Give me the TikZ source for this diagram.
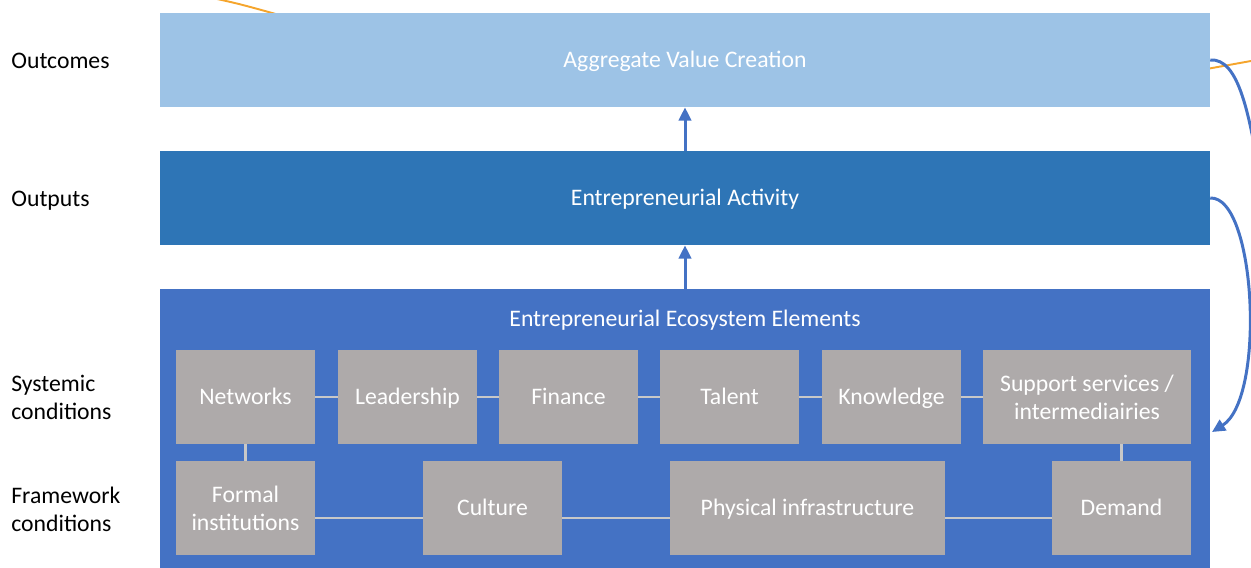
\documentclass[tikz,border=0pt]{standalone}
\usepackage{fontspec}
\setmainfont{Carlito}
\usetikzlibrary{arrows.meta,positioning}
\definecolor{outcomeFill}{HTML}{9DC3E6}
\definecolor{outputFill}{HTML}{2E75B6}
\definecolor{ecoFill}{HTML}{4472C4}
\definecolor{elemFill}{HTML}{AEAAAA}
\definecolor{linkGrey}{HTML}{C8C8C8}
\definecolor{orangeLine}{HTML}{F5A52C}
\tikzset{
  oneline/.style={text height=2.1ex, text depth=.4ex},
  twoline/.style={text height={}, text depth={}},
  band/.style={
    rectangle, minimum width=21cm, minimum height=1.88cm,
    text=white, inner sep=0pt, oneline
  },
  elem/.style={
    rectangle, fill=elemFill, text=white, align=center,
    minimum width=2.78cm, minimum height=1.88cm, inner sep=2pt, oneline
  },
  link/.style={draw=linkGrey, line width=1.5pt},
  flow/.style={-{Triangle[length=7.5pt,width=7pt]}, draw=ecoFill, line width=1.7pt},
  rowlabel/.style={anchor=west, align=left, inner sep=0pt}
}

\begin{document}
\begin{tikzpicture}[x=0.02cm,y=-0.02cm,font=\fontsize{13.5}{16}\selectfont]
  \useasboundingbox (0,0) rectangle (1251,568);
  \clip (0,0) rectangle (1251,568);

  % stray orange lines, running behind the top band
  \draw[orangeLine, line width=1.1pt] (208,-3) .. controls (240,4) .. (290,18);
  \draw[orangeLine, line width=1.1pt] (1190,72) -- (1262,59);

  % three levels
  \node[band, fill=outcomeFill] (value) at (685,60) {Aggregate Value Creation};
  \node[band, fill=outputFill] (activity) at (685,198) {Entrepreneurial Activity};
  \node[band, fill=ecoFill, minimum height=5.8cm, anchor=north] (eco) at (685,289) {};
  \node[text=white, oneline] (ecotitle) at (685,319) {Entrepreneurial Ecosystem Elements};

  % systemic conditions
  \node[elem] (net)  at (245.5,397) {Networks};
  \node[elem] (lead) at (407.5,397) {Leadership};
  \node[elem] (fin)  at (568.5,397) {Finance};
  \node[elem] (tal)  at (729.5,397) {Talent};
  \node[elem] (know) at (891.5,397) {Knowledge};
  \node[elem, twoline, minimum width=4.16cm] (supp) at (1087,397) {Support services /\\intermediairies};

  % framework conditions
  \node[elem, twoline] (formal) at (245.5,508) {Formal\\institutions};
  \node[elem] (cult)   at (492.5,508) {Culture};
  \node[elem, minimum width=5.5cm] (phys) at (807.5,508) {Physical infrastructure};
  \node[elem] (dem)    at (1121.5,508) {Demand};

  % links between elements
  \draw[link] (net) -- (lead);
  \draw[link] (lead) -- (fin);
  \draw[link] (fin) -- (tal);
  \draw[link] (tal) -- (know);
  \draw[link] (know) -- (supp);
  \draw[link] (net) -- (formal);
  \draw[link] (dem.north) -- (dem.north |- supp.south);
  \draw[link] ([yshift=-0.2cm]formal.east) -- ([yshift=-0.2cm]cult.west);
  \draw[link] ([yshift=-0.2cm]cult.east) -- ([yshift=-0.2cm]phys.west);
  \draw[link] ([yshift=-0.2cm]phys.east) -- ([yshift=-0.2cm]dem.west);

  % upward flow
  \draw[flow] (activity.north) -- (value.south);
  \draw[flow] (eco.north) -- (activity.south);

  % feedback loops on the right
  \coordinate (loopOut) at (1263,200);
  \coordinate (loopIn) at (1212,432);
  \draw[flow, -] (value.east) .. controls (1238,58) and (1250,110) .. (loopOut);
  \draw[flow] (activity.east) .. controls (1256,196) and (1266,398) .. (loopIn);

  % level labels
  \node[rowlabel, oneline] (lblOutcomes) at (11,61) {Outcomes};
  \node[rowlabel, oneline] (lblOutputs) at (11,199) {Outputs};
  \node[rowlabel] (lblSystemic) at (11,397) {Systemic\\conditions};
  \node[rowlabel] (lblFramework) at (11,509) {Framework\\conditions};
\end{tikzpicture}
\end{document}
